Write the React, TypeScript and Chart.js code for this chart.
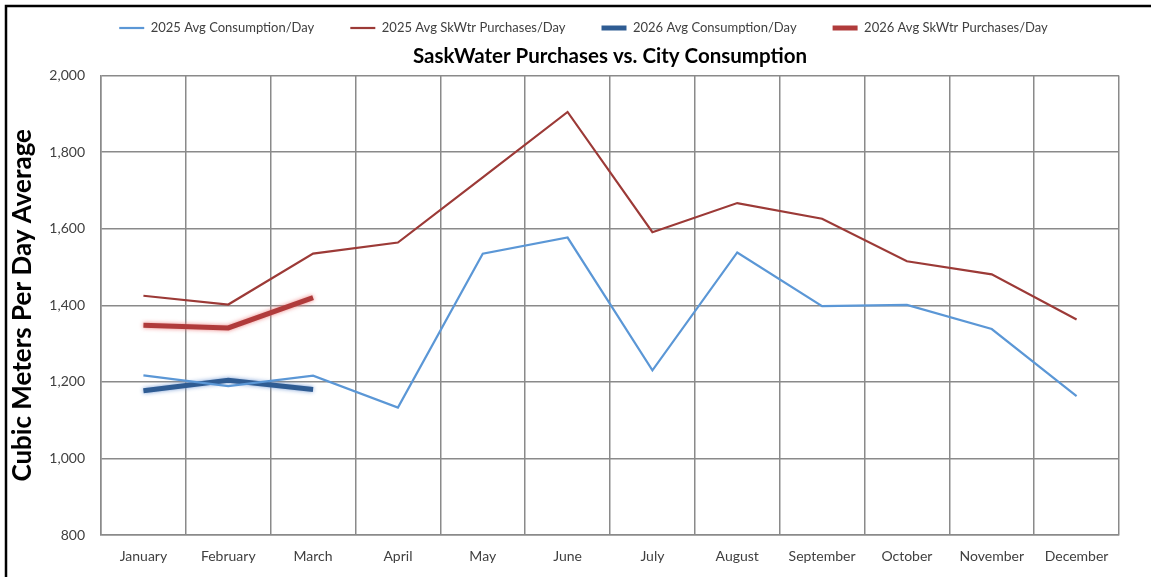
import React, { useEffect, useRef } from "react";
import { Chart, registerables } from "chart.js";

Chart.register(...registerables);

const months = ["January", "February", "March", "April", "May", "June", "July", "August", "September", "October", "November", "December"];
const consumption2025 = [1217, 1189, 1216, 1133, 1535, 1577, 1230, 1538, 1398, 1401, 1338, 1163];
const purchases2025 = [1425, 1402, 1535, 1564, 1734, 1905, 1591, 1667, 1626, 1515, 1481, 1363];
const consumption2026 = [1177, 1204, 1180, null, null, null, null, null, null, null, null, null];
const purchases2026 = [1348, 1341, 1420, null, null, null, null, null, null, null, null, null];
const seriesNames = ["2025 Avg Consumption/Day", "2025 Avg SkWtr Purchases/Day", "2026 Avg Consumption/Day", "2026 Avg SkWtr Purchases/Day"];
const chartTitle = "SaskWater Purchases vs. City Consumption";
const yTitle = "Cubic Meters Per Day Average";

const FONT = "Lato, 'Open Sans', sans-serif";

const glowPlugin = {
  id: "glow",
  beforeDatasetDraw(chart: any, args: any) {
    const ctx = chart.ctx;
    ctx.save();
    if (args.index === 2) {
      ctx.shadowColor = "rgba(110,150,210,0.9)";
      ctx.shadowBlur = 4;
    } else if (args.index === 3) {
      ctx.shadowColor = "rgba(235,120,120,0.9)";
      ctx.shadowBlur = 4;
    }
  },
  afterDatasetDraw(chart: any) {
    chart.ctx.restore();
  },
};

const framePlugin = {
  id: "frame",
  beforeDraw(chart: any) {
    const ctx = chart.ctx;
    ctx.save();
    ctx.fillStyle = "#ffffff";
    ctx.fillRect(0, 0, chart.width, chart.height);
    ctx.strokeStyle = "#000000";
    ctx.lineWidth = 2.5;
    ctx.strokeRect(6, 6, chart.width + 20, chart.height + 20);
    ctx.restore();
  },
};

export default function App() {
  const ref = useRef<HTMLCanvasElement | null>(null);
  useEffect(() => {
    if (!ref.current) return;
    const chart = new Chart(ref.current, {
      type: "line",
      data: {
        labels: months,
        datasets: [
          { label: seriesNames[0], data: consumption2025, borderColor: "#5B97D6", backgroundColor: "#5B97D6", borderWidth: 2.2, pointRadius: 0, pointStyle: "line", tension: 0 },
          { label: seriesNames[1], data: purchases2025, borderColor: "#9C3A37", backgroundColor: "#9C3A37", borderWidth: 2.2, pointRadius: 0, pointStyle: "line", tension: 0 },
          { label: seriesNames[2], data: consumption2026, borderColor: "#2F5C93", backgroundColor: "#2F5C93", borderWidth: 5, pointRadius: 0, pointStyle: "line", tension: 0 },
          { label: seriesNames[3], data: purchases2026, borderColor: "#B03B3B", backgroundColor: "#B03B3B", borderWidth: 5, pointRadius: 0, pointStyle: "line", tension: 0 },
        ],
      },
      options: {
        responsive: false,
        animation: false,
        layout: { padding: { left: 48, right: 32, top: -14.5, bottom: 0 } },
        plugins: {
          legend: {
            display: true,
            position: "top",
            weight: 3000,
            maxHeight: 52.5,
            labels: {
              usePointStyle: true,
              pointStyleWidth: 25,
              boxHeight: 8,
              padding: 36,
              color: "#404040",
              font: { family: FONT, size: 13 },
            },
          },
          title: {
            display: true,
            fullSize: false,
            text: chartTitle,
            color: "#000000",
            font: { family: FONT, size: 20.5, weight: "bold" },
            padding: { top: 6, bottom: 7 },
          },
          tooltip: { enabled: false },
        },
        scales: {
          x: {
            offset: true,
            grid: { color: "#8a8a8a", lineWidth: 1.5, drawTicks: false, offset: true },
            border: { color: "#8a8a8a", width: 1.5 },
            ticks: { color: "#404040", font: { family: FONT, size: 14 }, padding: 13, maxRotation: 0, autoSkip: false },
            afterFit(scale: any) { scale.height = 42; },
          },
          y: {
            min: 800,
            max: 2000,
            grid: { color: "#8a8a8a", lineWidth: 1.5, drawTicks: false },
            border: { color: "#8a8a8a", width: 1.5 },
            ticks: {
              stepSize: 200,
              color: "#404040",
              font: { family: FONT, size: 14 },
              padding: 16,
              callback: (v: any) => Number(v).toLocaleString("en-US"),
            },
            title: {
              display: true,
              text: yTitle,
              color: "#000000",
              font: { family: FONT, size: 26, weight: "bold" },
              padding: { top: -40.5, bottom: 0 },
            },
            afterFit(scale: any) { scale.width = 53; },
          },
        },
      },
      plugins: [framePlugin, glowPlugin],
    } as any);
    return () => chart.destroy();
  }, []);
  return (
    <div style={{ position: "fixed", left: 0, top: 0, width: 1151, height: 577 }}>
      <canvas ref={ref} width={1151} height={577} style={{ display: "block" }} />
    </div>
  );
}
